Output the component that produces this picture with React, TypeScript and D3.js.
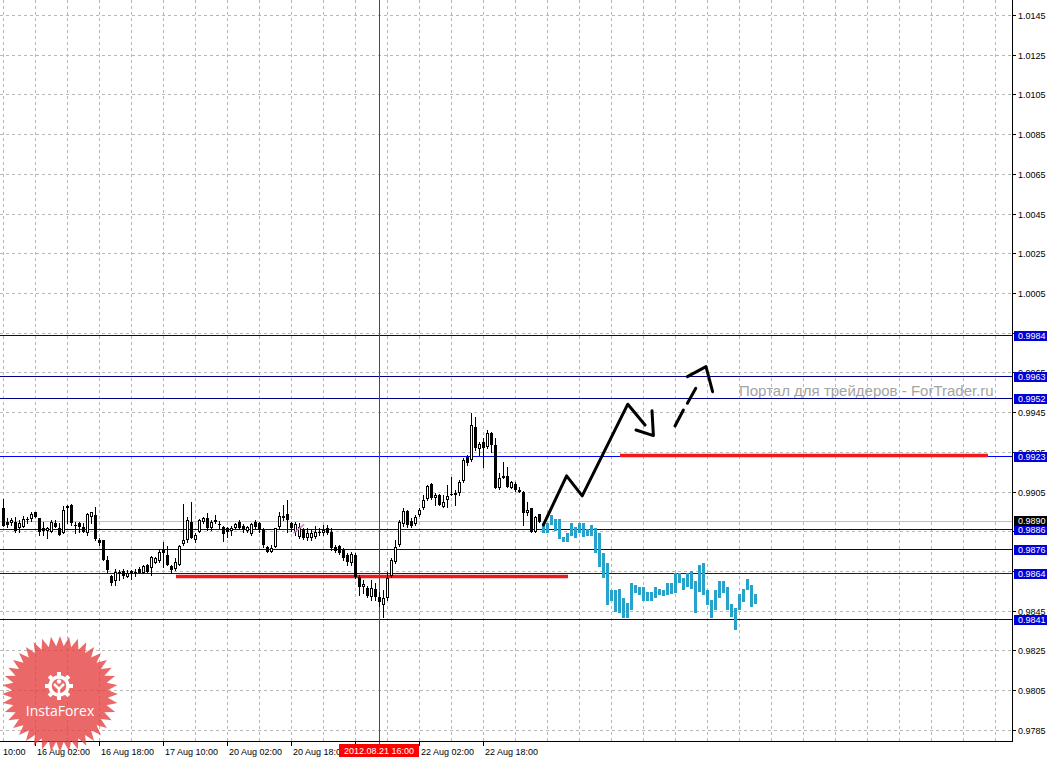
import * as d3 from 'd3';

// hourly bars, index 0 = first visible bar on the left
const candleOpen = [
  0.98967, 0.98897, 0.98892, 0.98897, 0.98867, 0.98872, 0.98912, 0.98912, 0.98947, 0.98917,
  0.98867, 0.98852, 0.98847, 0.98892, 0.98867, 0.98842, 0.98967, 0.98982, 0.98882, 0.98892,
  0.98872, 0.98842, 0.98922, 0.98932, 0.98806, 0.98806, 0.98706, 0.98625, 0.98600, 0.98640,
  0.98650, 0.98620, 0.98650, 0.98645, 0.98660, 0.98640, 0.98680, 0.98665, 0.98690, 0.98701,
  0.98756, 0.98731, 0.98675, 0.98660, 0.98680, 0.98786, 0.98806, 0.98897, 0.98806, 0.98847,
  0.98897, 0.98917, 0.98867, 0.98907, 0.98887, 0.98872, 0.98867, 0.98852, 0.98867, 0.98897,
  0.98877, 0.98852, 0.98836, 0.98897, 0.98892, 0.98857, 0.98771, 0.98746, 0.98771, 0.98872,
  0.98917, 0.98937, 0.98892, 0.98847, 0.98821, 0.98857, 0.98816, 0.98816, 0.98821, 0.98847,
  0.98841, 0.98867, 0.98847, 0.98771, 0.98776, 0.98756, 0.98731, 0.98690, 0.98731, 0.98620,
  0.98570, 0.98565, 0.98519, 0.98560, 0.98519, 0.98479, 0.98514, 0.98625, 0.98696, 0.98781,
  0.98887, 0.98952, 0.98902, 0.98887, 0.98932, 0.98967, 0.99013, 0.99088, 0.99018, 0.99033,
  0.98972, 0.99008, 0.99038, 0.99043, 0.99043, 0.99103, 0.99224, 0.99209, 0.99375, 0.99265,
  0.99300, 0.99275, 0.99345, 0.99285, 0.99068, 0.99128, 0.99128, 0.99068, 0.99088, 0.99058,
  0.99048, 0.98942, 0.98967, 0.98847, 0.98937,
];
const candleHigh = [
  0.99013, 0.98917, 0.98917, 0.98922, 0.98907, 0.98927, 0.98922, 0.98947, 0.98947, 0.98917,
  0.98897, 0.98872, 0.98907, 0.98907, 0.98892, 0.98977, 0.98982, 0.98988, 0.98897, 0.98897,
  0.98892, 0.98942, 0.98947, 0.98972, 0.98816, 0.98806, 0.98726, 0.98630, 0.98660, 0.98655,
  0.98660, 0.98655, 0.98655, 0.98660, 0.98670, 0.98680, 0.98685, 0.98726, 0.98721, 0.98756,
  0.98796, 0.98776, 0.98680, 0.98716, 0.98781, 0.98988, 0.98922, 0.98998, 0.98841, 0.98912,
  0.98922, 0.98942, 0.98907, 0.98932, 0.98902, 0.98877, 0.98872, 0.98877, 0.98892, 0.98907,
  0.98887, 0.98877, 0.98892, 0.98907, 0.98897, 0.98867, 0.98776, 0.98781, 0.98867, 0.98947,
  0.98982, 0.99008, 0.98897, 0.98897, 0.98892, 0.98867, 0.98867, 0.98857, 0.98877, 0.98867,
  0.98882, 0.98882, 0.98867, 0.98781, 0.98781, 0.98766, 0.98741, 0.98746, 0.98741, 0.98630,
  0.98605, 0.98575, 0.98605, 0.98590, 0.98545, 0.98554, 0.98645, 0.98716, 0.98806, 0.98907,
  0.98967, 0.98957, 0.98917, 0.98932, 0.98967, 0.99033, 0.99083, 0.99093, 0.99043, 0.99038,
  0.99033, 0.99083, 0.99124, 0.99058, 0.99108, 0.99219, 0.99234, 0.99446, 0.99426, 0.99300,
  0.99320, 0.99360, 0.99350, 0.99320, 0.99144, 0.99199, 0.99174, 0.99103, 0.99098, 0.99073,
  0.99053, 0.98998, 0.98967, 0.98927, 0.98937,
];
const candleLow = [
  0.98877, 0.98872, 0.98882, 0.98847, 0.98847, 0.98872, 0.98892, 0.98902, 0.98922, 0.98831,
  0.98831, 0.98816, 0.98847, 0.98872, 0.98831, 0.98842, 0.98892, 0.98882, 0.98842, 0.98847,
  0.98847, 0.98831, 0.98892, 0.98806, 0.98781, 0.98706, 0.98645, 0.98580, 0.98580, 0.98605,
  0.98615, 0.98620, 0.98610, 0.98625, 0.98640, 0.98640, 0.98645, 0.98630, 0.98690, 0.98696,
  0.98670, 0.98680, 0.98640, 0.98655, 0.98680, 0.98781, 0.98796, 0.98816, 0.98796, 0.98847,
  0.98892, 0.98857, 0.98857, 0.98892, 0.98867, 0.98801, 0.98821, 0.98831, 0.98862, 0.98862,
  0.98847, 0.98847, 0.98831, 0.98867, 0.98847, 0.98771, 0.98746, 0.98746, 0.98771, 0.98867,
  0.98907, 0.98847, 0.98852, 0.98831, 0.98816, 0.98811, 0.98806, 0.98806, 0.98816, 0.98831,
  0.98831, 0.98836, 0.98756, 0.98746, 0.98736, 0.98706, 0.98680, 0.98680, 0.98615, 0.98530,
  0.98540, 0.98519, 0.98504, 0.98504, 0.98474, 0.98418, 0.98504, 0.98620, 0.98690, 0.98776,
  0.98877, 0.98872, 0.98872, 0.98882, 0.98927, 0.98962, 0.99008, 0.99013, 0.98983, 0.98983,
  0.98972, 0.98972, 0.99033, 0.98983, 0.99033, 0.99098, 0.99184, 0.99204, 0.99259, 0.99234,
  0.99174, 0.99270, 0.99249, 0.99068, 0.99063, 0.99118, 0.99073, 0.99068, 0.99053, 0.99048,
  0.98882, 0.98932, 0.98847, 0.98847, 0.98897,
];
const candleClose = [
  0.98877, 0.98882, 0.98907, 0.98852, 0.98892, 0.98912, 0.98907, 0.98937, 0.98922, 0.98847,
  0.98852, 0.98867, 0.98897, 0.98872, 0.98831, 0.98957, 0.98977, 0.98892, 0.98877, 0.98872,
  0.98847, 0.98937, 0.98947, 0.98811, 0.98791, 0.98706, 0.98655, 0.98590, 0.98645, 0.98645,
  0.98625, 0.98640, 0.98635, 0.98640, 0.98640, 0.98675, 0.98645, 0.98721, 0.98716, 0.98746,
  0.98741, 0.98680, 0.98655, 0.98696, 0.98776, 0.98806, 0.98907, 0.98816, 0.98831, 0.98907,
  0.98917, 0.98867, 0.98897, 0.98897, 0.98882, 0.98836, 0.98847, 0.98867, 0.98887, 0.98867,
  0.98857, 0.98872, 0.98887, 0.98872, 0.98857, 0.98781, 0.98746, 0.98766, 0.98867, 0.98927,
  0.98927, 0.98907, 0.98867, 0.98887, 0.98872, 0.98816, 0.98841, 0.98841, 0.98847, 0.98841,
  0.98857, 0.98841, 0.98766, 0.98751, 0.98741, 0.98716, 0.98696, 0.98736, 0.98620, 0.98570,
  0.98585, 0.98524, 0.98565, 0.98519, 0.98494, 0.98514, 0.98615, 0.98706, 0.98771, 0.98897,
  0.98952, 0.98882, 0.98877, 0.98922, 0.98957, 0.99008, 0.99078, 0.99018, 0.99033, 0.98983,
  0.98998, 0.99028, 0.99036, 0.99033, 0.99098, 0.99209, 0.99194, 0.99385, 0.99270, 0.99290,
  0.99270, 0.99345, 0.99285, 0.99068, 0.99118, 0.99118, 0.99073, 0.99098, 0.99058, 0.99048,
  0.98942, 0.98957, 0.98847, 0.98922, 0.98897,
];

// projected (cyan) bars that follow the candles
const cyanHigh = [
  0.98892, 0.98892, 0.98932, 0.98912, 0.98912, 0.98821, 0.98842, 0.98892, 0.98872, 0.98892,
  0.98892, 0.98862, 0.98882, 0.98867, 0.98842, 0.98741, 0.98690, 0.98554, 0.98554, 0.98559,
  0.98514, 0.98489, 0.98590, 0.98580, 0.98570, 0.98570, 0.98544, 0.98544, 0.98570, 0.98560,
  0.98554, 0.98590, 0.98590, 0.98640, 0.98640, 0.98615, 0.98640, 0.98650, 0.98600, 0.98680,
  0.98690, 0.98554, 0.98504, 0.98554, 0.98600, 0.98600, 0.98570, 0.98484, 0.98464, 0.98534,
  0.98560, 0.98610, 0.98580, 0.98534,
];
const cyanLow = [
  0.98842, 0.98842, 0.98882, 0.98852, 0.98811, 0.98796, 0.98796, 0.98826, 0.98816, 0.98842,
  0.98821, 0.98826, 0.98826, 0.98741, 0.98670, 0.98615, 0.98479, 0.98499, 0.98444, 0.98439,
  0.98413, 0.98413, 0.98454, 0.98539, 0.98529, 0.98499, 0.98499, 0.98499, 0.98514, 0.98529,
  0.98524, 0.98529, 0.98534, 0.98539, 0.98590, 0.98554, 0.98570, 0.98560, 0.98439, 0.98544,
  0.98529, 0.98479, 0.98413, 0.98454, 0.98514, 0.98539, 0.98454, 0.98418, 0.98353, 0.98454,
  0.98494, 0.98554, 0.98469, 0.98484,
];
const cyanStartBar = 135;

const priceTicks = [
  1.0145, 1.0125, 1.0105, 1.0085, 1.0065, 1.0045, 1.0025, 1.0005, 0.9985, 0.9965,
  0.9945, 0.9925, 0.9905, 0.9885, 0.9865, 0.9845, 0.9825, 0.9805, 0.9785,
];
const timeLabels = [
  '15 Aug 10:00', '16 Aug 02:00', '16 Aug 18:00', '17 Aug 10:00', '20 Aug 02:00',
  '20 Aug 18:00', '21 Aug 10:00', '22 Aug 02:00', '22 Aug 18:00',
];
const timeLabelBars = [-8, 8, 24, 40, 56, 72, 88, 104, 120];

const levelPrices = [0.9984, 0.9963, 0.9952, 0.9923, 0.9886, 0.9876, 0.9864, 0.9841];
const levelBright = [false, false, false, true, false, false, true, false];
const bidPrice = 0.989;

// red horizontal segments: [fromBar, toBar, price]
const redSegments: [number, number, number][] = [
  [43.25, 141.25, 0.98622],
  [154.25, 246.25, 0.99232],
];

const cursorBar = 94;
const cursorLabel = '2012.08.21 16:00';

// hand drawn forecast arrows: [bar, price]
const arrowPath: [number, number][] = [[135.1, 0.98882], [140.9, 0.99129], [144.8, 0.99028], [156.2, 0.9949], [160.5, 0.99385]];
const arrowHeadDown: [number, number][] = [[158.25, 0.9936], [162.6, 0.99332], [162.25, 0.99457]];
const arrowDashes: [number, number][][] = [
  [[168, 0.9938], [170.1, 0.99461]],
  [[171.1, 0.99495], [173.2, 0.9957]],
];
const arrowHeadUp: [number, number][] = [[171.1, 0.99629], [175.75, 0.99679], [177.4, 0.99553]];
const pinkMark: [number, number][] = [[72.6, 0.98840], [75.3, 0.98885]];

const W = 1055;
const H = 759;
const plotRight = 1012;
const plotBottom = 741;
const font = "'Liberation Sans', Arial, sans-serif";

export default function App() {
  const x = d3.scaleLinear().domain([0, 1]).range([3, 7]);
  const y = d3.scaleLinear().domain([0.9785, 1.0145]).range([729.85, 15]);
  const py = (p: number) => Math.round(y(p));

  const line = d3.line<[number, number]>().x(d => x(d[0])).y(d => y(d[1]));

  const gridBars = d3.range(0, 254, 8);

  // tick texts that sit fully under a level label are not drawn (MT4 paints over them)
  const labelYs = [...levelPrices, bidPrice].map(py);
  const visibleTicks = priceTicks.filter(t => labelYs.every(ly => Math.abs(ly - py(t)) > 3));
  const cursorX = x(cursorBar);

  // InstaForex badge
  const starPts = d3.range(80).map(k => {
    const a = (k / 80) * Math.PI * 2 - Math.PI / 2;
    const r = k % 2 === 0 ? 58 : 48;
    return [60 + r * Math.cos(a), 694 + r * Math.sin(a)];
  });
  const teeth = d3.range(8);

  return (
    <div style={{ position: 'absolute', left: 0, top: 0 }}>
      <svg width={W} height={H} style={{ display: 'block', background: '#fff' }}>
        {/* grid */}
        <g stroke="#b8b8b8" strokeDasharray="3,3" shapeRendering="crispEdges">
          {priceTicks.map(t => (
            <line key={t} x1={0} x2={plotRight} y1={py(t) + 0.5} y2={py(t) + 0.5} />
          ))}
          {gridBars.map(b => (
            <line key={b} x1={x(b) + 0.5} x2={x(b) + 0.5} y1={0} y2={plotBottom} />
          ))}
        </g>

        <text x={739} y={396} fontFamily={font} fontSize={15} fill="#a4a4a4">
          Портал для трейдеров - ForTrader.ru
        </text>

        {/* bid line */}
        <line x1={0} x2={plotRight} y1={py(bidPrice) + 0.5} y2={py(bidPrice) + 0.5} stroke="#c0c0c0" shapeRendering="crispEdges" />

        {/* horizontal levels */}
        {levelPrices.map((p, i) => (
          <line key={p} x1={0} x2={plotRight} y1={py(p) + 0.5} y2={py(p) + 0.5}
            stroke={levelBright[i] ? '#0000ff' : '#000088'} shapeRendering="crispEdges" />
        ))}

        {/* cursor vertical line */}
        <line x1={cursorX + 0.5} x2={cursorX + 0.5} y1={0} y2={744} stroke="#ff0000" shapeRendering="crispEdges" />

        {/* red segments */}
        {redSegments.map(([a, b, p], i) => (
          <line key={i} x1={x(a)} x2={x(b)} y1={y(p)} y2={y(p)} stroke="#f01818" strokeWidth={3.5} />
        ))}

        {/* candles */}
        <g shapeRendering="crispEdges">
          {candleOpen.map((o, i) => {
            const c = candleClose[i];
            const cx = x(i);
            const bull = c > o;
            const t = py(Math.max(o, c));
            const b = py(Math.min(o, c));
            return (
              <g key={i}>
                <line x1={cx + 0.5} x2={cx + 0.5} y1={py(candleHigh[i])} y2={py(candleLow[i]) + 1} stroke="#000" />
                {b - t < 2 ? (
                  <rect x={cx - 1} y={t} width={3} height={1} fill="#000" />
                ) : bull ? (
                  <rect x={cx - 0.5} y={t + 0.5} width={2} height={b - t - 1} fill="#fff" stroke="#000" />
                ) : (
                  <rect x={cx - 1} y={t} width={3} height={b - t} fill="#000" />
                )}
              </g>
            );
          })}
        </g>

        {/* projected bars */}
        <g shapeRendering="crispEdges" fill="#27a2cb">
          {cyanHigh.map((h, j) => {
            const cx = x(cyanStartBar + j);
            const t = py(h);
            return <rect key={j} x={cx - 1} y={t} width={3} height={Math.max(py(cyanLow[j]) - t, 2)} />;
          })}
        </g>

        {/* pink trade mark */}
        <path d={line(pinkMark) || ''} stroke="#e27ac8" strokeWidth={1.5} fill="none" />

        {/* forecast arrows */}
        <g stroke="#000" strokeWidth={3} fill="none" strokeLinecap="round" strokeLinejoin="round">
          <path d={line(arrowPath) || ''} />
          <path d={line(arrowHeadDown) || ''} />
          {arrowDashes.map((d, i) => <path key={i} d={line(d) || ''} />)}
          <path d={line(arrowHeadUp) || ''} />
        </g>

        {/* axes */}
        <g shapeRendering="crispEdges">
          <line x1={plotRight + 0.5} x2={plotRight + 0.5} y1={0} y2={plotBottom + 1} stroke="#000" />
          <line x1={0} x2={plotRight + 1} y1={plotBottom + 0.5} y2={plotBottom + 0.5} stroke="#000" />
          {priceTicks.map(t => (
            <line key={t} x1={plotRight} x2={plotRight + 4} y1={py(t) + 0.5} y2={py(t) + 0.5} stroke="#000" />
          ))}
          {timeLabelBars.map(b => (
            <line key={b} x1={x(b) + 0.5} x2={x(b) + 0.5} y1={plotBottom} y2={plotBottom + 5} stroke="#000" />
          ))}
        </g>
        <g fontFamily={font} fontSize={9} fill="#000">
          {visibleTicks.map(t => (
            <text key={t} x={plotRight + 6} y={py(t) + 3.5}>{t.toFixed(4)}</text>
          ))}
          {timeLabels.map((l, i) => {
            const lx = x(timeLabelBars[i]) + 2;
            // hidden behind the cursor time box
            if (Math.abs(lx - cursorX) < 40) return null;
            // label scrolled off the left edge: only its time part shows
            if (lx < 0) return <text key={l} x={3} y={755}>{l.split(' ').pop()}</text>;
            return <text key={l} x={lx} y={755}>{l}</text>;
          })}
        </g>

        {/* price labels of the levels */}
        <g fontFamily={font} fontSize={9} shapeRendering="crispEdges">
          {levelPrices.map(p => (
            <g key={p}>
              <rect x={plotRight + 2} y={py(p) - 4.5} width={33} height={10} fill="#0000d8" />
              <text x={plotRight + 6} y={py(p) + 4} fill="#fff">{p.toFixed(4)}</text>
            </g>
          ))}
          <rect x={plotRight + 2} y={py(bidPrice) - 5.5} width={33} height={10} fill="#000" />
          <text x={plotRight + 6} y={py(bidPrice) + 3} fill="#fff">{bidPrice.toFixed(4)}</text>
        </g>

        {/* cursor time label */}
        <rect x={cursorX - 40} y={744} width={80} height={13} fill="#ff0000" shapeRendering="crispEdges" />
        <text x={cursorX} y={754} textAnchor="middle" fontFamily={font} fontSize={9} fill="#fff">{cursorLabel}</text>

        {/* badge */}
        <g>
          <polygon points={starPts.map(p => p.join(',')).join(' ')} fill="#e53e3e" opacity={0.78} />
          <g fill="#fff" stroke="none">
            {teeth.map(k => (
              <rect key={k} x={57} y={672} width={4} height={5} transform={`rotate(${k * 45 - 90} 59 686)`} />
            ))}
          </g>
          <circle cx={59} cy={686} r={9} fill="none" stroke="#fff" strokeWidth={3.5} />
          <circle cx={59} cy={681.5} r={2.2} fill="#fff" />
          <path d="M54,684 L59,689 L64,684 M59,689 L59,698" stroke="#fff" strokeWidth={2.5} fill="none" />
          <text x={60} y={716} textAnchor="middle" fontFamily="'Open Sans', sans-serif" fontSize={14} fill="#fff">InstaForex</text>
        </g>
      </svg>
    </div>
  );
}
